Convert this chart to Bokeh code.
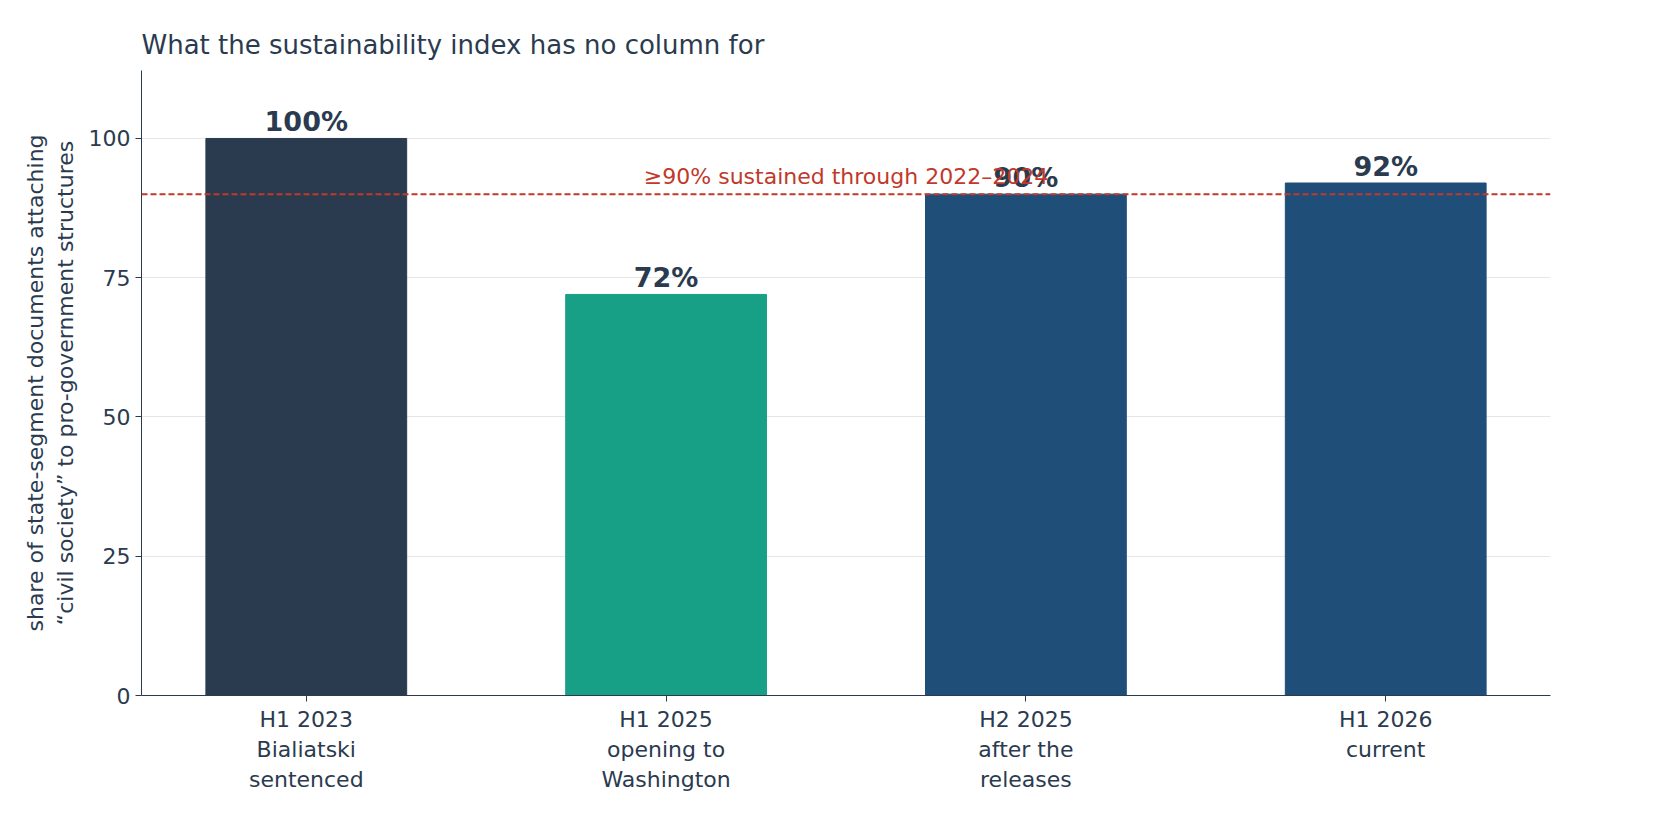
from bokeh.plotting import figure
from bokeh.models import ColumnDataSource, Span, Label, FixedTicker, Range1d
from bokeh.embed import file_html
from bokeh.resources import INLINE

labels = ["H1 2023\nBialiatski\nsentenced", "H1 2025\nopening to\nWashington", "H2 2025\nafter the\nreleases", "H1 2026\ncurrent"]
values = [100, 72, 90, 92]
colors = ["#2b3b4f", "#17a085", "#1f4e79", "#1f4e79"]
threshold = 90
FONT = "DejaVu Sans"
DARK = "#2b3b4f"

xs = list(range(len(values)))
src = ColumnDataSource(dict(x=xs, top=values, color=colors, txt=[f"{v}%" for v in values]))

p = figure(width=1645, height=815, output_backend="svg", toolbar_location=None,
           x_range=Range1d(-0.458, 3.458), y_range=Range1d(0, 112.2),
           min_border_left=141, min_border_top=70, min_border_bottom=120, min_border_right=95)
p.title.text = "What the sustainability index has no column for"
p.title.text_font = FONT
p.title.text_font_size = "26px"
p.title.text_font_style = "normal"
p.title.text_color = DARK
p.title.offset = 0
p.title.standoff = 22

p.vbar(x="x", top="top", width=0.558, color="color", source=src)
p.text(x="x", y="top", text="txt", source=src, text_align="center", text_baseline="bottom",
       text_font={"value": FONT}, text_font_size="27px", text_font_style="bold", text_color=DARK, y_offset=-1)

p.add_layout(Span(location=threshold, dimension="width", line_color="#c0392b", line_dash="6 3", line_width=2))
p.add_layout(Label(x=1.5, y=threshold, text="≥90% sustained through 2022–2024", text_align="center",
                   text_baseline="bottom", text_font=FONT, text_font_size="22px", text_color="#c0392b", y_offset=5))

p.xaxis.ticker = FixedTicker(ticks=xs)
p.xaxis.major_label_overrides = {i: l for i, l in enumerate(labels)}
p.yaxis.ticker = FixedTicker(ticks=[0, 25, 50, 75, 100])
p.yaxis.axis_label = "share of state-segment documents attaching\n“civil society” to pro-government structures"
for ax in (p.xaxis, p.yaxis):
    ax.major_label_text_font = FONT
    ax.major_label_text_font_size = "22px"
    ax.major_label_text_color = DARK
    ax.axis_line_color = DARK
    ax.major_tick_line_color = DARK
    ax.minor_tick_line_color = None
    ax.major_tick_out = 6
    ax.major_tick_in = 0
p.yaxis.axis_label_text_font = FONT
p.yaxis.axis_label_text_font_size = "22px"
p.yaxis.axis_label_text_font_style = "normal"
p.yaxis.axis_label_text_color = DARK
p.yaxis.axis_label_standoff = 8
p.xgrid.grid_line_color = None
p.ygrid.grid_line_color = "#e6e6e6"
p.outline_line_color = None

open("out.html", "w").write(file_html(p, INLINE))
